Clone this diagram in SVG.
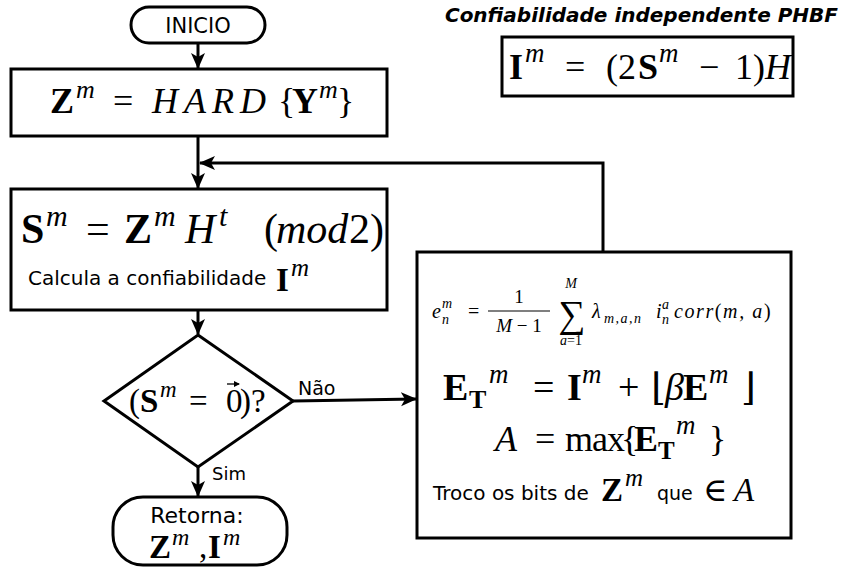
<svg xmlns="http://www.w3.org/2000/svg" width="843" height="572" viewBox="0 0 843 572">
<defs>
<marker id="ah" markerUnits="userSpaceOnUse" markerWidth="16" markerHeight="16" viewBox="0 0 16 16" refX="15" refY="8" orient="auto">
<path d="M0,1 L16,8 L0,15 L4,8 z" fill="#000"/>
</marker>
<marker id="vec" markerUnits="userSpaceOnUse" markerWidth="6" markerHeight="6" viewBox="0 0 6 6" refX="5" refY="3" orient="auto">
<path d="M0,0 L6,3 L0,6 z" fill="#000"/>
</marker>
<style>
.box{fill:#fff;stroke:#000;stroke-width:3}
.con{fill:none;stroke:#000;stroke-width:3;marker-end:url(#ah)}
.sans{font-family:"DejaVu Sans","Liberation Sans",sans-serif}
.m{font-family:"Liberation Serif","DejaVu Serif",serif}
.b{font-weight:bold}
.i{font-style:italic}
</style>
</defs>
<rect width="843" height="572" fill="#fff"/>

<g id="connectors">
<path class="con" d="M198,43 V68"/>
<path class="con" d="M198,136 V188"/>
<path class="con" d="M603,252 V163 H200"/>
<path class="con" d="M198,310 V334"/>
<path class="con" d="M293,401 L416,399"/>
<path class="con" d="M198,467 V496"/>
</g>

<g id="inicio">
<rect class="box" x="131" y="7" width="134" height="36" rx="18"/>
<text class="sans" x="198" y="33" font-size="21" text-anchor="middle">INICIO</text>
</g>

<g id="hard">
<rect class="box" x="11" y="69" width="376" height="67"/>
<text class="m" font-size="36"><tspan class="b" x="50" y="113">Z</tspan><tspan class="i" font-size="26" x="76" y="98">m</tspan><tspan x="113" y="113">=</tspan><tspan class="i" x="152" y="113" letter-spacing="6">HARD</tspan><tspan x="278" y="113">{</tspan><tspan class="b" x="292" y="113">Y</tspan><tspan class="i" font-size="26" x="319" y="98">m</tspan><tspan x="337" y="113">}</tspan></text>
</g>

<g id="sindrome">
<rect class="box" x="11" y="189" width="376" height="121"/>
<text class="m" font-size="42"><tspan class="b" x="21" y="243">S</tspan><tspan class="i" font-size="30" x="46" y="226">m</tspan><tspan x="86" y="243">=</tspan><tspan class="b" x="124" y="243">Z</tspan><tspan class="i" font-size="30" x="154" y="226">m</tspan><tspan class="i" x="185" y="243">H</tspan><tspan class="i" font-size="30" x="219" y="226">t</tspan><tspan x="264" y="243">(</tspan><tspan class="i" x="276" y="243">mod</tspan><tspan x="349" y="243">2)</tspan></text>
<text class="sans" x="28" y="285" font-size="20">Calcula a confiabilidade</text>
<text class="m" font-size="33"><tspan class="b" x="276" y="291">I</tspan><tspan class="i" font-size="25" x="291" y="276">m</tspan></text>
</g>

<g id="decisao">
<polygon class="box" points="198,335 293,401 198,467 104,401"/>
<text class="m" font-size="33"><tspan x="129" y="412">(</tspan><tspan class="b" x="140" y="412">S</tspan><tspan class="i" font-size="23" x="160" y="397">m</tspan><tspan x="189" y="412">=</tspan><tspan x="226" y="412">0</tspan><tspan x="240" y="412">)?</tspan></text>
<path d="M227,384 H239" fill="none" stroke="#000" stroke-width="1.3" marker-end="url(#vec)"/>
<text class="sans" x="298" y="395" font-size="19">Não</text>
<text class="sans" x="212" y="480" font-size="18">Sim</text>
</g>

<g id="retorna">
<rect class="box" x="113" y="497" width="174" height="68" rx="30"/>
<text class="sans" x="197" y="523" font-size="22" text-anchor="middle">Retorna:</text>
<text class="m" font-size="33"><tspan class="b" x="149" y="558">Z</tspan><tspan class="i" font-size="24" x="172" y="545">m</tspan><tspan x="199" y="558">,</tspan><tspan class="b" x="208" y="558">I</tspan><tspan class="i" font-size="24" x="223" y="545">m</tspan></text>
</g>

<g id="titulo">
<text class="sans b i" x="838" y="22" font-size="20" text-anchor="end">Confiabilidade independente PHBF</text>
</g>

<g id="confiabilidade">
<rect class="box" x="502" y="37" width="291" height="59"/>
<text class="m" font-size="36"><tspan class="b" x="509" y="79">I</tspan><tspan class="i" font-size="27" x="525" y="62">m</tspan><tspan x="565" y="79">=</tspan><tspan x="606" y="79">(2</tspan><tspan class="b" x="638" y="79">S</tspan><tspan class="i" font-size="27" x="659" y="62">m</tspan><tspan x="699" y="79">−</tspan><tspan x="735" y="79">1</tspan><tspan x="753" y="79">)</tspan><tspan class="i" x="765" y="79">H</tspan></text>
</g>

<g id="inversao">
<rect class="box" x="417" y="252" width="374" height="286"/>
<text class="m i" x="432" y="318" font-size="20">e</text>
<text class="m i" x="442" y="308" font-size="14">m</text>
<text class="m i" x="442" y="324" font-size="14">n</text>
<text class="m" x="468" y="318" font-size="20">=</text>
<text class="m" x="519" y="303" font-size="19" text-anchor="middle">1</text>
<line x1="488" y1="311" x2="550" y2="311" stroke="#000" stroke-width="1.2"/>
<text class="m" x="519" y="332" font-size="19" text-anchor="middle"><tspan class="i">M</tspan> − 1</text>
<text class="m" x="572" y="327" font-size="38" text-anchor="middle">∑</text>
<text class="m i" x="571" y="288" font-size="14" text-anchor="middle">M</text>
<text class="m" x="571" y="345" font-size="14" text-anchor="middle"><tspan class="i">a</tspan>=1</text>
<text class="m i" x="592" y="318" font-size="20">λ</text>
<text class="m i" x="604" y="323" font-size="14" letter-spacing="1.5">m,a,n</text>
<text class="m i" x="656" y="318" font-size="20">i</text>
<text class="m i" x="662" y="309" font-size="14">a</text>
<text class="m i" x="662" y="324" font-size="14">n</text>
<text class="m" x="674" y="318" font-size="20" letter-spacing="1.6"><tspan class="i">corr</tspan>(<tspan class="i">m, a</tspan>)</text>

<text class="m" font-size="38"><tspan class="b" x="443" y="400">E</tspan><tspan class="b" font-size="26" x="469" y="408">T</tspan><tspan class="i" font-size="27" x="489" y="383">m</tspan><tspan x="533" y="400">=</tspan><tspan class="b" x="567" y="400">I</tspan><tspan class="i" font-size="27" x="582" y="383">m</tspan><tspan x="618" y="400">+</tspan><tspan x="651" y="400">⌊</tspan><tspan class="i" x="665" y="400">β</tspan><tspan class="b" x="683" y="400">E</tspan><tspan class="i" font-size="27" x="709" y="383">m</tspan><tspan x="741" y="400">⌋</tspan></text>

<text class="m" font-size="36"><tspan class="i" x="495" y="451">A</tspan><tspan x="535" y="451">=</tspan><tspan x="565" y="451" letter-spacing="-1">max</tspan><tspan x="621" y="451">{</tspan><tspan class="b" x="634" y="451">E</tspan><tspan class="b" font-size="25" x="658" y="459">T</tspan><tspan class="i" font-size="27" x="676" y="434">m</tspan><tspan x="709" y="451">}</tspan></text>

<text class="sans" x="433" y="500" font-size="20">Troco os bits de</text>
<text class="m" font-size="33"><tspan class="b" x="601" y="501">Z</tspan><tspan class="i" font-size="25" x="625" y="486">m</tspan></text>
<text class="sans" x="657" y="500" font-size="19">que</text>
<text class="m" font-size="33"><tspan x="703" y="501">∈</tspan><tspan class="i" x="734" y="501">A</tspan></text>
</g>
</svg>
